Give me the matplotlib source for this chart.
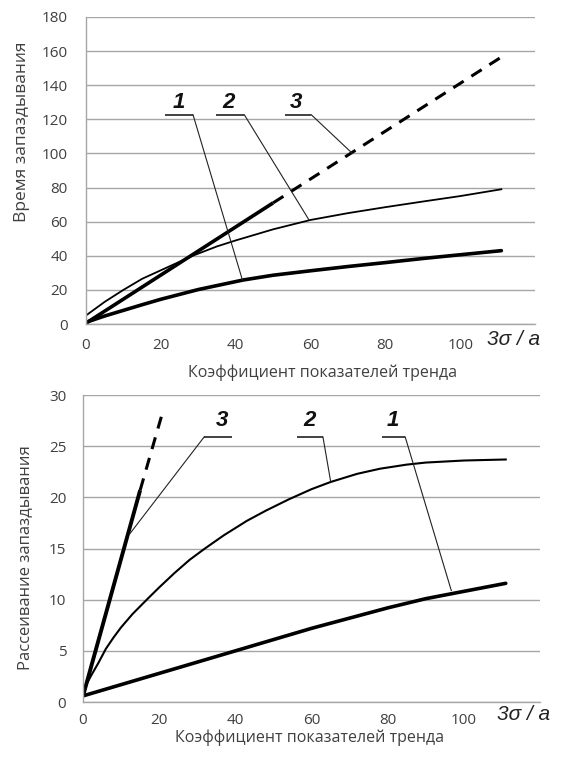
import matplotlib
matplotlib.use('Agg')
import matplotlib.pyplot as plt

plt.rcParams['font.family'] = ['Open Sans', 'DejaVu Sans']

# ---- top chart: время запаздывания ----
top_x1 = [0, 5, 10, 15, 20, 30, 42, 50, 60, 70, 80, 90, 100, 111]
top_y1 = [1, 4.7, 8, 11.3, 14.5, 20.2, 25.8, 28.6, 31.2, 33.7, 36, 38.4, 40.6, 43]
top_x2 = [0, 5, 10, 15, 21, 28.5, 35, 40, 50, 60, 70, 80, 90, 100, 111]
top_y2 = [5, 13, 20, 26.5, 32.5, 40, 45.5, 49, 55.5, 61, 65, 68.5, 71.8, 75, 79]
top_x3_solid = [0, 50]
top_y3_solid = [0.5, 71]
top_x3_dash = [50, 111]
top_y3_dash = [71, 156.5]

# label positions (text x, text y, underline x0, x1, underline y, target x, target y)
top_labels = ['1', '2', '3']
top_text_x = [24.8, 38.0, 56.2]
top_text_y = [130, 130, 130]
top_ul_x0 = [21.0, 34.7, 53.1]
top_ul_x1 = [28.6, 42.3, 60.2]
top_ul_y = [122.7, 122.7, 122.7]
top_tgt_x = [41.8, 59.6, 71.2]
top_tgt_y = [25.8, 61.0, 100.0]

# ---- bottom chart: рассеивание запаздывания ----
bot_x1 = [0, 10, 20, 30, 40, 50, 60, 70, 80, 90, 97, 104, 111]
bot_y1 = [0.6, 1.7, 2.8, 3.9, 5.0, 6.1, 7.2, 8.2, 9.2, 10.1, 10.6, 11.1, 11.6]
bot_x2 = [0, 1, 2, 4, 6, 8, 10, 13, 17, 20, 24, 28, 32, 37, 43, 48, 54, 60, 65,
          72, 78, 85, 90, 100, 111]
bot_y2 = [1.0, 1.8, 2.5, 3.8, 5.2, 6.3, 7.3, 8.6, 10.1, 11.2, 12.6, 13.9, 15.0,
          16.3, 17.7, 18.7, 19.8, 20.8, 21.5, 22.3, 22.8, 23.2, 23.4, 23.6, 23.7]
bot_x3_solid = [0, 15]
bot_y3_solid = [0.6, 20.7]
bot_x3_dash = [15, 21.2]
bot_y3_dash = [20.7, 28.7]

bot_labels = ['3', '2', '1']
bot_text_x = [36.6, 59.6, 81.3]
bot_text_y = [27.5, 27.5, 27.5]
bot_ul_x0 = [31.8, 56.3, 78.4]
bot_ul_x1 = [39.1, 63.0, 84.6]
bot_ul_y = [25.9, 25.9, 25.9]
bot_tgt_x = [12.2, 65.0, 96.7]
bot_tgt_y = [16.4, 21.6, 10.9]
# leader starts at left or right end of underline
bot_from_left = [True, False, False]

xticks = [0, 20, 40, 60, 80, 100]
top_yticks = list(range(0, 181, 20))
bot_yticks = list(range(0, 31, 5))

grid_col = '#a6a6a6'
txt_col = '#404040'


def style_axes(ax, yticks, ymax, xpad, ypad):
    ax.set_xlim(0, 120)
    ax.set_ylim(0, ymax)
    ax.set_xticks(xticks)
    ax.set_yticks(yticks)
    ax.tick_params(length=0, labelsize=11, labelcolor=txt_col)
    ax.tick_params(axis='x', pad=xpad)
    ax.tick_params(axis='y', pad=ypad)
    ax.yaxis.grid(True, color=grid_col, lw=1.0)
    ax.set_axisbelow(True)
    for s in ['top', 'right']:
        ax.spines[s].set_visible(False)
    for s in ['left', 'bottom']:
        ax.spines[s].set_color(grid_col)
        ax.spines[s].set_linewidth(1.0)


def draw_labels(ax, labels, tx, ty, ux0, ux1, uy, gx, gy, from_left=None):
    for i, lab in enumerate(labels):
        ax.text(tx[i], ty[i], lab, fontsize=16, fontweight='bold', style='italic',
                family='Liberation Sans', ha='center', va='center', color='#111111')
        ax.plot([ux0[i], ux1[i]], [uy[i], uy[i]], color='#333333', lw=1.3,
                solid_capstyle='butt')
        sx = ux1[i]
        if from_left is not None and from_left[i]:
            sx = ux0[i]
        ax.plot([sx, gx[i]], [uy[i], gy[i]], color='#222222', lw=0.8)


fig = plt.figure(figsize=(5.61, 7.62), dpi=100)

# top
ax1 = fig.add_axes([0.1533, 0.5748, 0.8004, 0.4029])
style_axes(ax1, top_yticks, 180, 10, 13)
ax1.plot(top_x1, top_y1, color='black', lw=2.6, solid_capstyle='round')
ax1.plot(top_x2, top_y2, color='black', lw=1.3)
ax1.plot(top_x3_solid, top_y3_solid, color='black', lw=2.6, solid_capstyle='butt')
ax1.plot(top_x3_dash, top_y3_dash, color='black', lw=2.2, dashes=(4, 3))
draw_labels(ax1, top_labels, top_text_x, top_text_y, top_ul_x0, top_ul_x1,
            top_ul_y, top_tgt_x, top_tgt_y)
ax1.text(-0.1425, 0.625, 'Время запаздывания', transform=ax1.transAxes,
         rotation=90, ha='center', va='center', fontsize=12.5, color=txt_col)
ax1.text(0.526, -0.16, 'Коэффициент показателей тренда', transform=ax1.transAxes,
         ha='center', va='center', fontsize=11.5, color=txt_col)
ax1.text(0.953, -0.052, '3σ / a', transform=ax1.transAxes, ha='center', va='center',
         fontsize=15, style='italic', family='Liberation Sans', color='#222222')

# bottom
ax2 = fig.add_axes([0.148, 0.0787, 0.8146, 0.4029])
style_axes(ax2, bot_yticks, 30, 8, 12)
ax2.plot(bot_x1, bot_y1, color='black', lw=2.6, solid_capstyle='round')
ax2.plot(bot_x2, bot_y2, color='black', lw=1.5)
ax2.plot(bot_x3_solid, bot_y3_solid, color='black', lw=2.8, solid_capstyle='butt')
ax2.plot(bot_x3_dash, bot_y3_dash, color='black', lw=2.2, dashes=(4, 3))
draw_labels(ax2, bot_labels, bot_text_x, bot_text_y, bot_ul_x0, bot_ul_x1,
            bot_ul_y, bot_tgt_x, bot_tgt_y, bot_from_left)
ax2.text(-0.127, 0.47, 'Рассеивание запаздывания', transform=ax2.transAxes,
         rotation=90, ha='center', va='center', fontsize=12, color=txt_col)
ax2.text(0.495, -0.117, 'Коэффициент показателей тренда', transform=ax2.transAxes,
         ha='center', va='center', fontsize=11.5, color=txt_col)
ax2.text(0.965, -0.042, '3σ / a', transform=ax2.transAxes, ha='center', va='center',
         fontsize=15, style='italic', family='Liberation Sans', color='#222222')

fig.savefig('out.png', dpi=100)
